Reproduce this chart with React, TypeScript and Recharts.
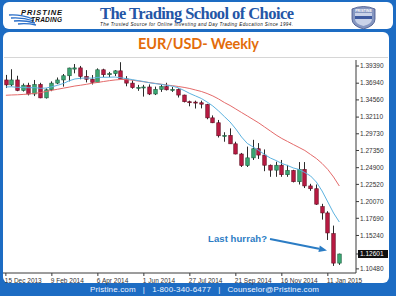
import { ComposedChart, Bar, Line, XAxis, YAxis } from 'recharts';

// weekly EUR/USD, one bar per week from 15 Dec 2013
const weekLabels = ['15 Dec 2013', '9 Feb 2014', '6 Apr 2014', '1 Jun 2014', '27 Jul 2014', '21 Sep 2014', '16 Nov 2014', '11 Jan 2015'];
const labelIndex = [0, 8, 16, 24, 32, 40, 48, 56];

const opens = [
  1.374, 1.367, 1.374, 1.359, 1.3665, 1.354, 1.3675, 1.3485, 1.36, 1.3695,
  1.374, 1.38, 1.3895, 1.3912, 1.379, 1.375, 1.3705, 1.3885, 1.3815, 1.383,
  1.387, 1.3755, 1.3695, 1.363, 1.3635, 1.364, 1.354, 1.3605, 1.3645, 1.36,
  1.3605, 1.3525, 1.343, 1.3425, 1.3415, 1.339, 1.32, 1.313, 1.2945, 1.295,
  1.283, 1.2685, 1.252, 1.263, 1.276, 1.267, 1.2525, 1.2455, 1.2525, 1.239,
  1.245, 1.229, 1.2465, 1.223, 1.219, 1.1935, 1.1845, 1.155, 1.113,
];
const highs = [
  1.3812, 1.3893, 1.38, 1.369, 1.37, 1.374, 1.37, 1.362, 1.372, 1.3775,
  1.3825, 1.3915, 1.3967, 1.394, 1.388, 1.381, 1.3905, 1.39, 1.3855, 1.388,
  1.3993, 1.3795, 1.3735, 1.367, 1.367, 1.3677, 1.3645, 1.368, 1.37, 1.364,
  1.362, 1.353, 1.3445, 1.3445, 1.3445, 1.34, 1.3235, 1.317, 1.2995, 1.305,
  1.286, 1.27, 1.279, 1.2887, 1.284, 1.275, 1.2535, 1.2575, 1.26, 1.253,
  1.246, 1.257, 1.257, 1.226, 1.225, 1.1975, 1.187, 1.1665, 1.1265,
];
const lows = [
  1.3625, 1.365, 1.358, 1.3575, 1.352, 1.351, 1.348, 1.3475, 1.358, 1.368,
  1.3645, 1.372, 1.3835, 1.375, 1.3705, 1.3675, 1.37, 1.378, 1.378, 1.3795,
  1.375, 1.365, 1.3615, 1.3585, 1.3503, 1.3525, 1.3525, 1.357, 1.359, 1.357,
  1.349, 1.342, 1.3365, 1.3333, 1.3335, 1.318, 1.3125, 1.292, 1.286, 1.2835,
  1.268, 1.25, 1.25, 1.26, 1.2615, 1.244, 1.236, 1.236, 1.236, 1.236,
  1.228, 1.225, 1.22, 1.216, 1.196, 1.175, 1.146, 1.109, 1.1105,
];
const closes = [
  1.367, 1.374, 1.359, 1.3665, 1.354, 1.3675, 1.3485, 1.36, 1.3695, 1.374,
  1.38, 1.391, 1.3912, 1.379, 1.375, 1.3705, 1.3885, 1.3815, 1.383, 1.387,
  1.3755, 1.3695, 1.363, 1.3635, 1.364, 1.354, 1.3605, 1.3645, 1.36, 1.3605,
  1.3525, 1.343, 1.3425, 1.3415, 1.3395, 1.32, 1.313, 1.2945, 1.295, 1.283,
  1.2685, 1.252, 1.263, 1.276, 1.267, 1.2525, 1.2455, 1.2525, 1.239, 1.245,
  1.229, 1.2465, 1.223, 1.219, 1.197, 1.1845, 1.156, 1.113, 1.126,
];
// moving averages as drawn on the chart
const fastMa = [
  1.364, 1.3643, 1.3635, 1.3635, 1.3628, 1.3631, 1.3621, 1.3625, 1.3643, 1.3664,
  1.369, 1.3728, 1.3754, 1.3764, 1.3768, 1.3765, 1.3777, 1.3778, 1.3779, 1.3782,
  1.3771, 1.3759, 1.3745, 1.3731, 1.3717, 1.37, 1.3688, 1.3677, 1.3664, 1.3651,
  1.3628, 1.359, 1.3547, 1.3512, 1.3476, 1.3426, 1.3369, 1.3298, 1.3219, 1.3141,
  1.3041, 1.2927, 1.2835, 1.2785, 1.2735, 1.2678, 1.2628, 1.2592, 1.255, 1.2521,
  1.2486, 1.2464, 1.2421, 1.2372, 1.2286, 1.2158, 1.2001, 1.1844, 1.1716,
];
const slowMa = [
  1.3522, 1.3526, 1.3529, 1.3534, 1.354, 1.3549, 1.3559, 1.3576, 1.3593, 1.3608,
  1.3623, 1.3638, 1.3654, 1.3665, 1.3678, 1.3693, 1.3705, 1.3718, 1.373, 1.374,
  1.3747, 1.3745, 1.3737, 1.3725, 1.3714, 1.3702, 1.3691, 1.368, 1.3668, 1.3658,
  1.3647, 1.3634, 1.3618, 1.3597, 1.3576, 1.3547, 1.3512, 1.3469, 1.3419, 1.3376,
  1.3326, 1.3276, 1.3227, 1.3177, 1.3127, 1.307, 1.3013, 1.2956, 1.2906, 1.2863,
  1.282, 1.2778, 1.2735, 1.2678, 1.2621, 1.255, 1.2464, 1.2357, 1.2229,
];

const priceTicks = [1.3939, 1.3694, 1.3456, 1.3211, 1.2973, 1.2735, 1.249, 1.2252, 1.2007, 1.1769, 1.1524, 1.1048];
const lastPrice = 1.12601;
const emptyBars = 2;

const rows = [];
for (let i = 0; i < opens.length + emptyBars; i++) {
  const has = i < opens.length;
  rows.push({
    idx: i,
    range: has ? [lows[i], highs[i]] : null,
    open: has ? opens[i] : null,
    high: has ? highs[i] : null,
    low: has ? lows[i] : null,
    close: has ? closes[i] : null,
    fast: has ? fastMa[i] : null,
    slow: has ? slowMa[i] : null,
  });
}

const BLUE = '#1d6cc3';
const AXIS = '#3a3a3a';

function Candle(props: any) {
  const { x, y, width, height, payload } = props;
  if (!payload || payload.high == null) return null;
  const top = Math.min(y, y + height);
  const h = Math.abs(height);
  const span = payload.high - payload.low || 1;
  const py = (v: number) => top + ((payload.high - v) / span) * h;
  const cx = Math.round(x + width / 2) + 0.5;
  const up = payload.close >= payload.open;
  const b1 = py(Math.max(payload.open, payload.close));
  const b2 = py(Math.min(payload.open, payload.close));
  return (
    <g>
      <line x1={cx} x2={cx} y1={top} y2={top + h} stroke="#2b2b2b" strokeWidth={1} />
      <rect
        x={cx - 1.75}
        y={b1}
        width={3.5}
        height={Math.max(1, b2 - b1)}
        fill={up ? '#3aa773' : '#b81a42'}
        stroke={up ? '#1d5a3d' : '#5e0c20'}
        strokeWidth={0.6}
      />
    </g>
  );
}

function DateTick(props: any) {
  const { x, y, payload } = props;
  const k = labelIndex.indexOf(payload.value);
  return (
    <text x={x - 1} y={y + 5} fontSize={6.5} fill="#333" fontFamily="'Liberation Sans', Arial" textAnchor="start">
      {weekLabels[k]}
    </text>
  );
}

function PriceTick(props: any) {
  const { x, y, payload } = props;
  const v = payload.value;
  if (v === lastPrice) {
    return (
      <g>
        <rect x={x - 2} y={y - 4} width={30} height={8} fill="#111" />
        <text x={x} y={y + 2.3} fontSize={6.5} fill="#fff" fontFamily="'Liberation Sans', Arial">
          {v.toFixed(5)}
        </text>
      </g>
    );
  }
  return (
    <text x={x} y={y + 2.3} fontSize={6.5} fill="#333" fontFamily="'Liberation Sans', Arial">
      {v.toFixed(5)}
    </text>
  );
}

function Frame() {
  return (
    <svg width={396} height={296} style={{ position: 'absolute', left: 0, top: 0 }}>
      <rect x={0} y={0} width={396} height={296} fill={BLUE} />
      <rect x={3} y={2} width={390} height={27} rx={6} fill="#fff" />
      <rect x={3} y={32} width={386} height={251} rx={6} fill="#fff" />
      <line x1={4} x2={388} y1={57.5} y2={57.5} stroke="#d6d6d6" strokeWidth={1} />

      {/* Pristine Trading logo */}
      <g stroke="#2a6fc9" strokeWidth={1.3} fill="none">
        <path d="M9 15 Q20 14 33 19" />
        <path d="M11 18 Q22 17 34 21" />
        <path d="M14 21 Q24 20 35 23" />
        <path d="M18 24 Q27 23 36 25" />
      </g>
      <text x={21} y={15} fontSize={7.5} fontWeight="bold" fontStyle="italic" fontFamily="'Liberation Sans', Arial" fill="#111" textLength={41}>
        PRISTINE
      </text>
      <text x={31} y={21.5} fontSize={6.5} fontWeight="bold" fontStyle="italic" fontFamily="'Liberation Sans', Arial" fill="#111" textLength={31}>
        TRADING
      </text>

      <text x={100} y={19} fontSize={16.5} fontWeight="bold" fontFamily="'Liberation Serif', 'Times New Roman', serif" fill="#2456a6" textLength={194}>
        The Trading School of Choice
      </text>
      <text x={100} y={26.3} fontSize={4.6} fontStyle="italic" fontFamily="'Liberation Sans', Arial" fill="#111" textLength={193}>
        The Trusted Source for Online Investing and Day Trading Education Since 1994.
      </text>

      {/* crest */}
      <path d="M352 9 Q363.5 4 375 9 L375 19 Q375 26 363.5 29 Q352 26 352 19 Z" fill="#8596c0" stroke="#3f4f86" strokeWidth={0.8} />
      <path d="M355 13 L372 13 L372 19 Q372 24 363.5 26 Q355 24 355 19 Z" fill="#c9d2e8" />
      <rect x={355} y={16} width={17} height={3} fill="#3e5aa0" />
      <text x={363.5} y={11.5} fontSize={3.6} fontWeight="bold" textAnchor="middle" fontFamily="'Liberation Sans', Arial" fill="#fff">
        PRISTINE
      </text>

      <text x={138} y={48.5} fontSize={14.5} fontWeight="bold" fontFamily="Lato, 'Open Sans', sans-serif" fill="#e36c0a" textLength={121}>
        EUR/USD- Weekly
      </text>

      <text x={90} y={291.5} fontSize={8} fontFamily="'Liberation Sans', Arial" fill="#eef4ff" textLength={229} xmlSpace="preserve">
        Pristine.com   |   1-800-340-6477   |   Counselor@Pristine.com
      </text>
    </svg>
  );
}

function Note() {
  return (
    <svg width={396} height={296} style={{ position: 'absolute', left: 0, top: 0, pointerEvents: 'none' }}>
      <text x={208} y={242} fontSize={9.5} fontWeight="bold" fontFamily="'Liberation Sans', Arial" fill="#2b7cc4" textLength={59}>
        Last hurrah?
      </text>
      <line x1={270} y1={239} x2={319} y2={248.8} stroke="#2b7cc4" strokeWidth={2} />
      <polygon points="327,250.4 318.4,252.1 319.8,245.5" fill="#2b7cc4" />
    </svg>
  );
}

export default function App() {
  return (
    <div style={{ position: 'absolute', left: 0, top: 0, width: 396, height: 296, overflow: 'hidden' }}>
      <Frame />
      <div style={{ position: 'absolute', left: 0, top: 0 }}>
        <ComposedChart width={396} height={296} data={rows} margin={{ top: 60, right: 0, bottom: 0, left: 3 }}>
          <XAxis
            dataKey="idx"
            type="category"
            height={23}
            ticks={labelIndex}
            interval={0}
            tick={<DateTick />}
            tickSize={3}
            tickLine={{ stroke: AXIS }}
            axisLine={{ stroke: AXIS }}
            padding={{ left: 0, right: 2.3 }}
          />
          <YAxis
            orientation="right"
            width={40}
            domain={[1.09893, 1.40245]}
            allowDataOverflow
            ticks={[...priceTicks, lastPrice]}
            interval={0}
            tick={<PriceTick />}
            tickSize={3}
            tickMargin={1}
            tickLine={{ stroke: AXIS }}
            axisLine={{ stroke: AXIS }}
          />
          <Line dataKey="slow" stroke="#e46a6a" strokeWidth={1} dot={false} isAnimationActive={false} connectNulls={false} />
          <Line dataKey="fast" stroke="#5db3e0" strokeWidth={1} dot={false} isAnimationActive={false} connectNulls={false} />
          <Bar dataKey="range" barSize={3} shape={<Candle />} isAnimationActive={false} />
        </ComposedChart>
      </div>
      <Note />
    </div>
  );
}
